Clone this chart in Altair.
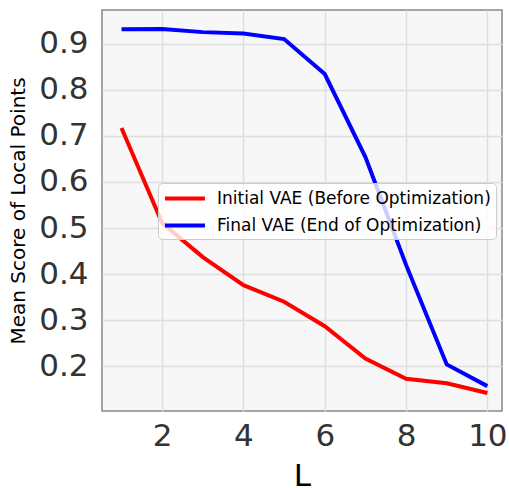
import altair as alt
import pandas as pd

L = [1, 2, 3, 4, 5, 6, 7, 8, 9, 10]
initial_vals = [0.717, 0.511, 0.437, 0.376, 0.340, 0.287, 0.217, 0.173, 0.163, 0.142]
final_vals = [0.931, 0.932, 0.925, 0.922, 0.910, 0.834, 0.654, 0.420, 0.204, 0.157]
series_names = ["Initial VAE (Before Optimization)", "Final VAE (End of Optimization)"]
series_colors = ["#ff0000", "#0000ff"]
x_ticks = [2, 4, 6, 8, 10]
y_ticks = [0.2, 0.3, 0.4, 0.5, 0.6, 0.7, 0.8, 0.9]

rows = []
for name, vals in zip(series_names, [initial_vals, final_vals]):
    for l, v in zip(L, vals):
        rows.append({"L": l, "score": v, "series": name})
df = pd.DataFrame(rows)

FONT = "DejaVu Sans"

chart = alt.Chart(df).mark_line(strokeWidth=4, clip=True).encode(
    x=alt.X("L:Q",
            scale=alt.Scale(domain=[0.52, 10.36], nice=False, zero=False),
            axis=alt.Axis(values=x_ticks, title="L", format="d")),
    y=alt.Y("score:Q",
            scale=alt.Scale(domain=[0.103, 0.973], nice=False, zero=False),
            axis=alt.Axis(values=y_ticks, title="Mean Score of Local Points", format=".1f")),
    color=alt.Color("series:N",
                    scale=alt.Scale(domain=series_names, range=series_colors),
                    legend=alt.Legend(title=None, orient="none", legendX=56, legendY=173)),
).properties(
    width=400, height=401,
    autosize=alt.AutoSizeParams(type="none"),
    padding={"left": 102, "top": 10, "right": 7, "bottom": 77},
).configure_view(
    fill="#f7f7f7", stroke="#888888", strokeWidth=1.5
).configure_axis(
    grid=True, gridColor="#dedede", gridWidth=1.5,
    domain=False, ticks=False,
    labelFont=FONT, labelFontSize=31, labelColor="#333333",
    titleFont=FONT, titleColor="#000000", titleFontWeight="normal",
).configure_axisX(
    labelPadding=10, titleFontSize=31, titlePadding=10,
).configure_axisY(
    labelPadding=14, titleFontSize=20, titlePadding=10,
).configure_legend(
    labelFont=FONT, labelFontSize=17, labelColor="#000000", labelLimit=0,
    symbolType="M-1,0H3.7", symbolSize=289, symbolStrokeWidth=4,
    symbolFillColor="transparent",
    labelOffset=33, rowPadding=8, padding=5,
    fillColor="rgba(255,255,255,0.8)", strokeColor="#cccccc", cornerRadius=4,
)

chart.save("out.html", embed_options={"renderer": "svg", "actions": False})
